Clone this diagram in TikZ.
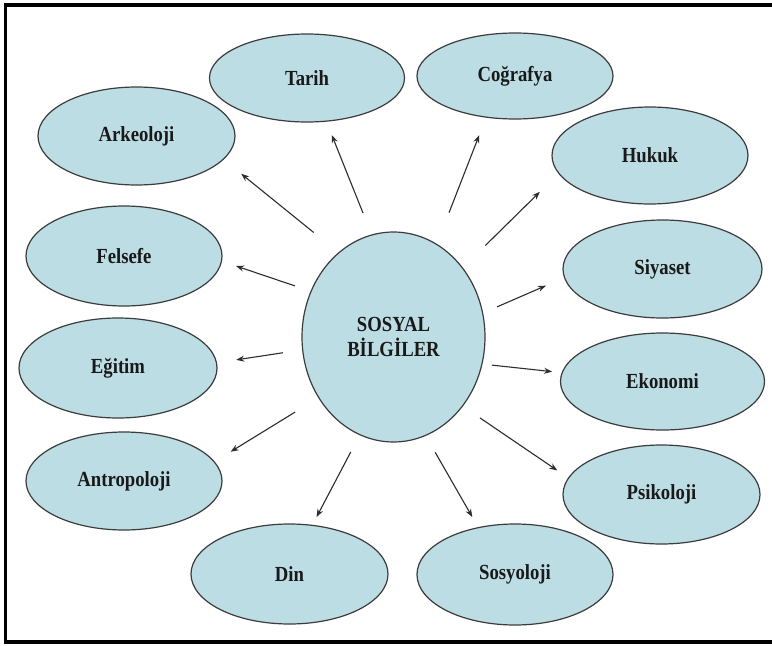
\documentclass[tikz,border=0pt]{standalone}
\usepackage{fontspec}
\setmainfont{Liberation Serif}
\usepackage{graphicx}
\usetikzlibrary{arrows.meta,shapes.geometric}
\definecolor{bubble}{RGB}{189,221,228}
\definecolor{edgec}{RGB}{60,60,60}
\definecolor{arrowc}{RGB}{45,45,45}
\definecolor{txt}{RGB}{25,25,25}
\newcommand\lbl[1]{\scalebox{1}[1.15]{#1}}
\tikzset{
  bub/.style={ellipse, draw=edgec, line width=1.2pt, fill=bubble, inner sep=0pt, outer sep=0pt,
    font=\bfseries\fontsize{18.7}{25}\selectfont, align=center, text=txt},
  arr/.style={draw=arrowc, line width=1.1pt, -{Stealth[length=8pt,width=6pt]}},
}
\begin{document}
\begin{tikzpicture}[x=1pt,y=-1pt]
\useasboundingbox (0,0) rectangle (772,646);
\fill[white] (0,0) rectangle (772,646);
\draw[line width=3.6pt, line join=miter] (780,5) -- (5.5,5) -- (5.5,642) -- (780,642);

\node[bub, minimum width=183pt, minimum height=210pt] (c) at (393.5,337) {\lbl{SOSYAL}\\\lbl{BİLGİLER}};

\node[bub, minimum width=195pt, minimum height=88pt]  (tarih)  at (307,78)      {\lbl{Tarih}};
\node[bub, minimum width=197pt, minimum height=98pt]  (ark)    at (136.5,136)   {\lbl{Arkeoloji}};
\node[bub, minimum width=196pt, minimum height=86pt]  (cog)    at (515,76)      {\lbl{Coğrafya}};
\node[bub, minimum width=196pt, minimum height=97pt]  (hukuk)  at (650,155.5)   {\lbl{Hukuk}};
\node[bub, minimum width=196pt, minimum height=100pt] (fel)    at (124,256)     {\lbl{Felsefe}};
\node[bub, minimum width=199pt, minimum height=98pt]  (siy)    at (662.5,269)   {\lbl{Siyaset}};
\node[bub, minimum width=198pt, minimum height=100pt] (egi)    at (118,368)     {\lbl{Eğitim}};
\node[bub, minimum width=204pt, minimum height=97pt]  (eko)    at (662.5,381.5) {\lbl{Ekonomi}};
\node[bub, minimum width=196pt, minimum height=98pt]  (ant)    at (124,481)     {\lbl{Antropoloji}};
\node[bub, minimum width=197pt, minimum height=99pt]  (psi)    at (661.5,494.5) {\lbl{Psikoloji}};
\node[bub, minimum width=197pt, minimum height=100pt] (din)    at (289.5,574)   {\lbl{Din}};
\node[bub, minimum width=196pt, minimum height=101pt] (sos)    at (515,574.5)   {\lbl{Sosyoloji}};

\draw[arr, shorten <=23.7pt, shorten >=14.9pt] (c.102)   -- (tarih.294.3);
\draw[arr, shorten <=32.3pt, shorten >=23.1pt] (c.123.9) -- (ark.345.9);
\draw[arr, shorten <=34.1pt, shorten >=19.3pt] (c.65.9)  -- (cog.235);
\draw[arr, shorten <=32.1pt, shorten >=26.5pt] (c.45.6)  -- (hukuk.191.3);
\draw[arr, shorten <=17pt,   shorten >=15.3pt] (c.151.1) -- (fel.357);
\draw[arr, shorten <=15.8pt, shorten >=20.3pt] (c.15.7)  -- (siy.185.5);
\draw[arr, shorten <=19.9pt, shorten >=20pt]   (c.188.5) -- (egi.3.8);
\draw[arr, shorten <=10.1pt, shorten >=10.1pt] (c.343.1) -- (eko.175.3);
\draw[arr, shorten <=27.8pt, shorten >=19.3pt] (c.219.1) -- (ant.12.6);
\draw[arr, shorten <=21.2pt, shorten >=13.6pt] (c.315)   -- (psi.170.4);
\draw[arr, shorten <=19.5pt, shorten >=9.4pt]  (c.251.2) -- (din.65.7);
\draw[arr, shorten <=19.5pt, shorten >=12.3pt] (c.288.6) -- (sos.128.4);
\end{tikzpicture}
\end{document}
